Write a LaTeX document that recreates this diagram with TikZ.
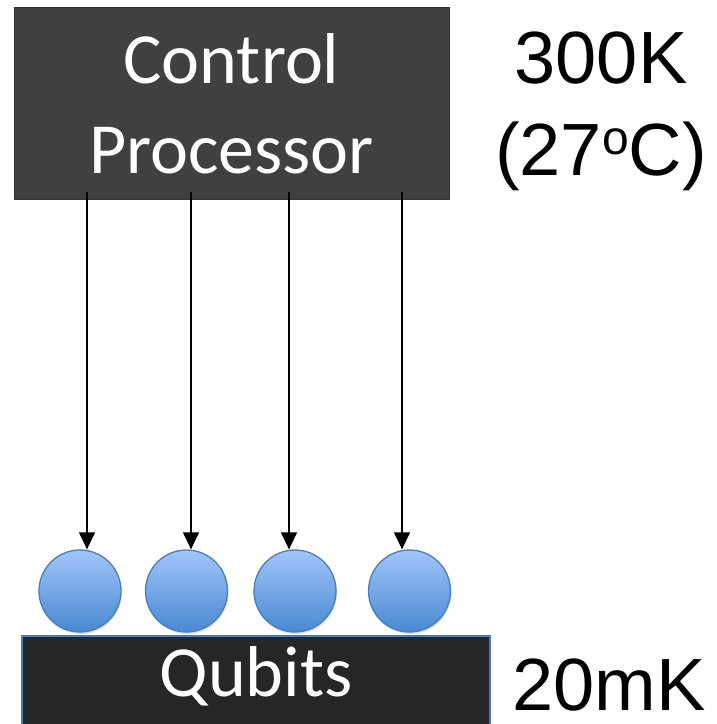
\documentclass[tikz,border=0pt]{standalone}
\usepackage{fontspec}
\setmainfont{Carlito}
\newfontfamily\arialfont{Liberation Sans}
\usetikzlibrary{arrows.meta,shadows}
\definecolor{procgray}{HTML}{404040}
\definecolor{qubitblack}{HTML}{262626}
\definecolor{edgeblue}{HTML}{4A7EBB}
\definecolor{balltop}{HTML}{A0C6F8}
\definecolor{ballbot}{HTML}{4A88D2}
\newcommand{\degsup}{\raisebox{21pt}{\fontsize{48}{48}\selectfont o}}
\tikzset{
  boxlabel/.style={text=white, anchor=base, inner sep=0pt, font=\fontsize{72}{72}\selectfont},
  templabel/.style={text=black, anchor=base, inner sep=0pt, font=\arialfont\fontsize{74}{74}\selectfont},
  qubit/.style={circle, minimum size=82pt, inner sep=0pt, draw=edgeblue, line width=1.3pt,
    top color=balltop, bottom color=ballbot,
    drop shadow={opacity=0.25, shadow xshift=1pt, shadow yshift=-2pt}},
  ctrl/.style={line width=1.3pt, -{Triangle[width=16pt,length=17pt]}}
}
\begin{document}
\begin{tikzpicture}[x=1pt, y=-1pt]
  \useasboundingbox (0,0) rectangle (717,724);
  % control processor box
  \node[draw=black!80, fill=procgray, line width=1pt, minimum width=435pt, minimum height=192pt,
        inner sep=0pt] (cp) at (231.5,103) {};
  \node[boxlabel] (cptop) at (231.5,83) {Control};
  \node[boxlabel] (cpbot) at (231.5,173) {Processor};
  % qubits
  \node[qubit] (q1) at (80,591) {};
  \node[qubit] (q2) at (186.5,591) {};
  \node[qubit] (q3) at (295,591) {};
  \node[qubit] (q4) at (409.5,591) {};
  % qubit plane
  \node[draw=edgeblue, fill=qubitblack, line width=1.5pt, minimum width=468pt, minimum height=100pt,
        inner sep=0pt] (qb) at (256,686) {};
  \node[boxlabel] (qbl) at (256,696) {Qubits};
  % control lines
  \coordinate (s1) at (87,192);
  \coordinate (s2) at (191,192);
  \coordinate (s3) at (289,192);
  \coordinate (s4) at (402,192);
  \draw[ctrl] (s1) -- (s1 |- q1.north);
  \draw[ctrl] (s2) -- (s2 |- q2.north);
  \draw[ctrl] (s3) -- (s3 |- q3.north);
  \draw[ctrl] (s4) -- (s4 |- q4.north);
  % temperatures
  \node[templabel] (t1) at (601,83) {300K};
  \node[templabel] (t2) at (601,175) {(27\degsup C)};
  \node[templabel] (t3) at (609,710) {20mK};
\end{tikzpicture}
\end{document}
